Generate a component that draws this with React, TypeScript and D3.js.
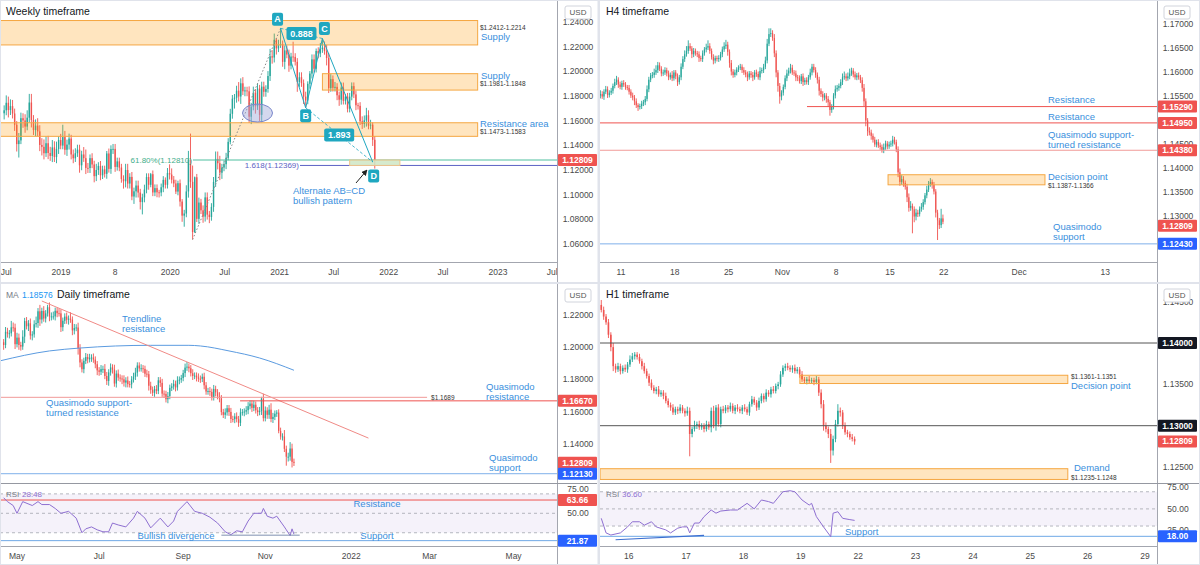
import React from "react";
import * as d3 from "d3";

/* ================= DATA ================= */
// ---- Weekly EUR/USD (price x 10000), weeks starting 2018-06-25
const weeklyFirstWeek = "2018-06-25";
const weeklyFirstOpen = 11660;
const weeklyClose = [
  11684,11745,11686,11718,11658,11567,11410,11440,11620,11602,11552,11624,11747,11605,11524,11560,11513,11403,11388,11336,11417,11338,11314,11383,11305,11370,11443,11398,
  11467,11364,11406,11455,11326,11295,11336,11365,11238,11326,11296,11217,11216,11296,11245,11150,11200,11233,11157,11205,11169,11334,11209,11370,11371,11225,11270,11220,11127,11109,11200,11090,11144,10985,11027,11074,11017,10940,10978,11041,11143,11080,11166,11018,11053,11019,11017,11060,11120,11080,11176,11163,
  11121,11091,11025,11093,10944,10830,10847,11026,11284,11104,10697,11141,10804,10936,10873,10822,10978,10838,10819,10901,11103,11290,11255,11178,11220,11247,11299,11428,11656,11778,11786,11843,11796,11903,11838,11845,11838,11632,11714,11826,11717,11860,11647,11876,11834,11857,11962,12122,12112,12256,12186,12216,
  12220,12077,12170,12136,12046,12120,12117,12077,11914,11952,11904,11795,11763,11899,11982,12097,12021,12165,12145,12180,12192,12165,12108,11864,11937,11866,11874,11806,11770,11869,11761,11795,11697,11795,11880,11813,11725,11720,11595,11573,11602,11644,11560,11567,11445,11281,
];
const weeklyUpWick = [
  40,60,50,55,50,40,30,60,45,40,50,60,70,70,40,50,60,50,55,60,55,60,50,60,50,60,30,50,
  100,50,40,40,30,40,40,40,40,30,60,70,40,30,40,30,50,30,40,30,30,20,40,30,40,40,30,30,30,30,50,50,30,40,30,40,40,30,30,40,30,30,10,30,30,30,20,30,30,20,40,70,
  50,30,30,20,30,20,30,50,71,211,132,6,27,40,30,40,40,40,30,30,40,60,60,60,30,30,40,30,40,30,30,40,70,40,50,30,30,40,30,50,30,40,30,40,40,30,40,60,50,50,10,40,
  129,30,40,40,40,30,120,30,30,40,40,30,40,20,20,40,40,20,30,50,74,50,50,40,40,30,40,30,30,40,40,20,30,30,30,30,30,20,30,40,40,60,40,40,20,30,
];
const weeklyDnWick = [
  50,40,60,40,40,50,60,109,30,60,50,30,40,60,40,50,40,50,70,50,30,50,40,50,40,50,40,30,
  30,40,50,40,40,40,30,30,60,40,30,50,40,40,30,50,40,40,40,30,30,40,30,40,40,40,30,30,30,60,50,40,40,30,60,50,40,60,100,40,30,40,20,30,30,40,40,30,40,30,30,40,
  30,30,20,30,40,50,90,30,50,49,61,7,26,40,30,50,40,40,50,30,40,40,50,60,50,30,40,20,20,40,80,40,40,60,30,40,40,50,60,30,60,30,50,60,40,40,30,40,50,40,50,30,
  26,40,60,30,50,30,40,30,80,40,30,60,59,30,40,40,30,30,40,30,30,30,60,40,30,30,30,40,50,40,30,30,30,30,30,30,40,30,30,40,30,50,30,30,50,70,
];
const weeklyPriceTicks = [1.24, 1.22, 1.2, 1.18, 1.16, 1.14, 1.12, 1.1, 1.08, 1.06];
const weeklyTimeTickDates = ["2018-07-02","2019-01-01","2019-07-01","2020-01-01","2020-07-01","2021-01-01","2021-07-01","2022-01-01","2022-07-01","2023-01-01","2023-07-01"];
const weeklyTimeTickText = ["Jul","2019","8","2020","Jul","2021","Jul","2022","Jul","2023","Jul"];
const weeklyZoneTop = [1.2412, 1.1981, 1.1583];
const weeklyZoneBottom = [1.2214, 1.1848, 1.1473];
const weeklyZoneFrom = ["2018-01-01", "2021-05-24", "2018-01-01"];
const weeklyZoneTo = "2022-10-25";
const weeklyZoneName = ["Supply", "Supply", "Resistance area"];
const weeklyZoneRange = ["$1.2412-1.2214", "$1.1981-1.1848", "$1.1473-1.1583"];
const patternNames = ["X", "A", "B", "C", "D"];
const patternDates = ["2020-03-16", "2021-01-04", "2021-03-29", "2021-05-24", "2021-11-08"];
const patternPrices = [1.0636, 1.2349, 1.1704, 1.2266, 1.1265];
const patternRatios = ["0.888", "1.893"];
const fibPrices = [1.1281, 1.12369];
const fibFrom = ["2020-03-17", "2021-03-10"];
const fibText = ["61.80%(1.12810)", "1.618(1.12369)"];
const abcdBoxDates = ["2021-08-23", "2022-02-07"];
const abcdBoxPrices = [1.1281, 1.1237];
const ellipseDate = "2020-10-19";
const ellipsePrice = 1.1662;
const lastPrice = 1.12809;

// ---- H4 (price x 10000); 6 bars per trading day, day 0 = 2021-10-07
const h4FirstOpen = 11552;
const h4Close = [
  11555,11550,11560,11565,11553,11558, 11562,11572,11580,11585,11575,11570,
  11578,11575,11570,11568,11560,11552, 11548,11540,11532,11528,11530,11535,
  11538,11545,11565,11585,11594,11595, 11600,11605,11615,11608,11598,11600,
  11605,11598,11590,11595,11588,11600, 11592,11580,11590,11612,11628,11638,
  11645,11655,11650,11638,11645,11640, 11638,11630,11628,11640,11648,11652,
  11655,11645,11632,11625,11630,11628, 11630,11638,11648,11655,11658,11643,
  11620,11602,11595,11600,11606,11610, 11612,11605,11600,11596,11590,11598,
  11595,11590,11600,11597,11590,11603, 11605,11612,11625,11660,11680,11682,
  11672,11640,11600,11572,11550,11558, 11570,11588,11598,11604,11610,11600,
  11598,11590,11588,11582,11592,11580, 11584,11580,11590,11600,11612,11605,
  11595,11585,11562,11555,11548,11552, 11545,11538,11522,11528,11552,11565,
  11568,11572,11580,11590,11592,11588, 11592,11598,11604,11596,11590,11594,
  11590,11584,11568,11540,11500,11478, 11475,11468,11460,11450,11455,11448,
  11445,11438,11444,11452,11446,11450, 11452,11460,11455,11440,11392,11372,
  11378,11370,11362,11340,11318,11322, 11315,11300,11308,11305,11316,11320,
  11330,11344,11356,11368,11372,11366, 11352,11308,11292,11282,11296,11289,
];
const h4UpWick = [
  8,6,5,7,6,5, 6,5,7,8,5,6, 5,6,5,4,6,5, 6,5,6,4,5,6, 5,6,8,6,5,6, 8,10,7,6,5,6,
  6,5,6,5,8,5, 5,6,5,7,6,8, 10,12,6,5,6,5, 5,6,5,6,5,8, 12,6,5,6,5,5, 6,5,6,8,10,6,
  5,6,5,6,5,5, 6,5,6,5,6,5, 5,6,5,6,5,8, 5,6,8,10,12,10, 6,8,6,5,6,5, 5,6,8,6,8,6,
  5,6,5,6,5,6, 5,6,5,8,6,6, 6,5,6,5,6,5, 5,6,5,6,5,8, 6,5,6,8,10,6, 8,10,6,5,6,5,
  6,5,6,8,6,5, 8,6,5,6,5,6, 6,5,8,6,5,6, 6,8,6,5,6,8, 8,6,5,6,8,10, 5,6,8,6,5,8,
  6,5,8,6,8,5, 6,5,6,5,20,8,
];
const h4DnWick = [
  6,5,7,5,6,5, 5,6,5,6,7,5, 6,5,6,5,6,5, 6,8,6,8,5,6, 5,6,5,6,5,6, 6,5,6,5,6,5,
  5,6,6,5,6,5, 6,8,5,6,5,6, 5,6,5,8,6,5, 6,8,5,6,5,6, 5,6,5,8,6,5, 6,5,6,5,6,8,
  10,8,6,5,6,5, 5,6,5,6,8,5, 6,8,5,6,5,6, 5,6,5,6,5,6, 6,8,10,12,15,8, 6,5,6,5,6,5,
  5,8,6,5,6,8, 6,5,6,5,6,5, 6,8,10,6,8,6, 8,10,12,6,5,6, 5,6,5,6,5,6, 5,6,5,6,5,6,
  5,6,8,10,12,10, 6,8,6,5,6,5, 6,5,6,5,6,5, 5,6,5,6,10,8, 6,8,6,10,8,6, 50,12,8,6,5,6,
  6,5,6,5,6,8, 6,10,41,8,6,5,
];
const h4PriceTicks = [1.17, 1.165, 1.16, 1.155, 1.15, 1.145, 1.14, 1.135, 1.13, 1.125];
const h4TimeTickBars = [12, 42, 72, 102, 132, 162, 192, 234, 282];
const h4TimeTickText = ["11", "18", "25", "Nov", "8", "15", "22", "Dec", "13"];
const h4LevelPrices = [1.1529, 1.1495, 1.1438, 1.1243];
const h4LevelFromBar = [115.7, -5, -5, -5];
const h4ZonePrices = [1.1387, 1.1366];
const h4ZoneBars = [160.9, 248.4];

// ---- Daily (price x 10000); index 0 = 2021-05-03, first bar 2021-04-22
const dailyFirstIndex = -7;
const dailyFirstOpen = 12032;
const dailyClose = [
  12015,12097,12086,12088,12125,12123,12020,
  12061,12015,12005,12067,12164,12132,12150,12074,12081,12144,12152,12225,12174,12227,12180,12212,12250,12193,12193,12193,12228,
  12213,12212,12126,12166,12192,12172,12179,12173,12106,12121,12124,11995,11906,11864,11916,11940,11926,11935,11937,11924,11895,11857,
  11848,11865,11866,11822,11791,11844,11875,11862,11775,11837,11812,11806,11801,11781,11794,11771,11770,11801,11817,11843,11887,11869,
  11870,11866,11836,11833,11761,11736,11717,11740,11729,11795,11779,11712,11710,11677,11697,11748,11757,11773,11751,11795,11799,11809,
  11840,11874,11880,11870,11839,11822,11824,11813,11805,11804,11817,11764,11725,11728,11723,11689,11741,11720,11696,11683,11597,11580,
  11595,11621,11598,11554,11553,11570,11553,11530,11595,11596,11600,11609,11634,11650,11623,11643,11608,11597,11604,11681,11559,
  11607,11580,11612,11554,11567,11587,11594,11480,11445,11445,11368,11319,11319,11370,11287,11281,
];
const dailyUpWick = [
  20,30,25,20,40,30,25,
  30,25,20,40,20,25,20,30,20,25,40,20,40,20,30,20,15,30,25,30,20,
  20,30,25,20,20,25,20,40,20,25,20,30,25,20,20,25,20,25,20,25,20,20,
  20,25,20,30,25,20,25,20,30,20,25,20,20,25,20,25,20,20,25,30,20,20,
  25,20,20,25,20,25,20,20,25,20,20,25,20,20,25,20,20,25,20,25,20,20,
  20,25,29,20,20,25,20,20,25,20,20,25,20,20,25,20,25,20,20,25,20,20,
  25,20,20,25,20,20,25,20,25,20,20,25,25,20,20,25,20,20,25,11,30,
  25,20,30,40,25,20,15,20,20,20,40,20,25,40,30,20,
];
const dailyDnWick = [
  30,20,25,30,20,25,30,
  20,30,25,20,40,20,30,25,30,20,20,30,40,25,20,25,20,30,25,20,25,
  25,20,30,25,20,25,30,20,30,25,20,40,30,20,25,20,25,20,25,20,25,30,
  25,20,25,20,25,30,20,25,20,25,20,20,30,25,30,20,20,25,20,20,25,20,
  20,25,20,20,30,25,20,25,20,20,25,20,25,20,25,20,20,20,25,20,25,20,
  20,25,20,25,20,25,20,25,20,25,20,25,20,20,25,20,20,25,20,25,20,20,
  25,20,25,25,20,25,20,25,20,20,25,20,25,20,25,20,20,25,20,25,20,
  20,25,25,20,25,20,20,15,20,25,20,56,30,25,35,20,
];
const dailyPriceTicks = [1.22, 1.2, 1.18, 1.16, 1.14, 1.12];
const dailyTimeTickIdx = [0, 43, 87, 130, 175, 216, 260];
const dailyTimeTickText = ["May", "Jul", "Sep", "Nov", "2022", "Mar", "May"];
const dailyMaIdx = [-9, 17, 33, 70, 90, 96, 111, 127, 145];
const dailyMaVal = [1.1916, 1.1978, 1.1996, 1.2013, 1.2013, 1.2009, 1.1978, 1.1934, 1.18576];
const dailyTrendIdx = [13, 184];
const dailyTrendVal = [1.2289, 1.1435];
const dailyQmSupportTurned = 1.1689;
const dailyQmSupportTurnedIdx = [-9, 214.7];
const dailyQmResistance = 1.1667;
const dailyQmResistanceFrom = 116.8;
const dailyQmSupport = 1.1213;
const dailyRsiIdx = [-7,-5,-2,0,3,8,11,13,17,20,23,27,31,34,36,39,42,45,48,50,53,57,61,63,67,70,75,79,82,84,89,93,97,101,105,109,112,115,118,121,124,128,129,131,134,136,140,141,142,143,144,145];
const dailyRsiVal = [66,62,58,50,62,58,62,59,59,55,50,52,45,30,34,36,33,31,31,40,38,36,45,52,45,35,45,36,42,52,62,52,50,46,40,31,28,32,31,42,50,50,55,47,45,47,36,33,30,27,34,28.5];
const dailyRsiResistance = 63.66;
const dailyRsiSupport = 21.87;
const dailyDivIdx = [107, 148];
const dailyDivVal = [27.5, 27.5];

// ---- H1 (price x 10000); hour 0 = 2021-11-15 00:00, first bar at hour 12
const h1FirstHour = 12;
const h1FirstOpen = 11446;
const h1Close = [
  11440,11432,11425,11410,11395,11372, 11368,11372,11366,11370,11368,11374,
  11380,11384,11386,11383,11378,11372, 11366,11360,11352,11346,11342,11344,11338,11340,11336,
  11330,11325,11322,11316,11320,11318, 11322,11318,11315,11318,11290,
  11296,11300,11302,11298,11300,11296,11302,11298, 11318,11300,11322,11302,11320,11318,
  11322,11320,11324,11318,11322,11320,11318,11322,11320,11316, 11326,11332,11328,11322,
  11330,11336,11332,11340,11338,11344,11342,11348,11350, 11362,11370,
  11372,11370,11368,11370,11366,11368,11362, 11356,11354, 11356,11354,11355,11353,11356,
  11340,11326, 11300,11296,11290,11270, 11284,11302,11318,11316, 11300,11292, 11290,11286,11284,11281,
];
const h1UpWick = [
  6,4,3,4,3,5,3,4,3,3, 4,3,5,4,3,3,4,3,4,3, 3,4,3,3,4,3,3,4,3,3, 4,3,3,4,3,3,5,4,3,6,
  3,4,3,3,4,3,4,6,3,4, 3,4,3,3,4,3,3,4,3,3, 4,3,3,4,3,3,4,3,3,4, 3,3,4,3,3,4,3,3,4,3,
  3,4,3,3,4,3,3,4,3,3, 4,3,4,5,4,3,6,4,5,8, 4,3,4,3,3,4,3,
];
const h1DnWick = [
  3,4,3,4,5,6,4,3,4,3, 3,4,3,3,4,3,3,4,3,3, 4,3,3,4,3,3,4,3,3,4, 3,3,4,3,3,4,3,27,4,3,
  4,3,3,4,3,3,6,3,6,3, 4,3,3,4,3,3,4,3,3,4, 3,3,4,3,3,4,3,3,4,3, 3,4,3,3,4,3,3,4,3,3,
  4,3,3,4,3,3,4,3,3,4, 3,4,5,6,4,5,15,6,4,3, 5,4,3,4,3,3,4,
];
const h1PriceTicks = [1.145, 1.14, 1.135, 1.13, 1.125];
const h1TimeTickHours = [24, 48, 72, 96, 120, 144, 168, 192, 216, 240];
const h1TimeTickText = ["16", "17", "18", "19", "22", "23", "24", "25", "26", "29"];
const h1RoundLevels = [1.14, 1.13];
const h1ZoneTop = [1.1361, 1.1248];
const h1ZoneBottom = [1.1351, 1.1235];
const h1ZoneFromHour = [95.1, 11.5];
const h1ZoneToHour = 207.2;
const h1RsiIdx = [0,2,4,8,11,13,16,18,21,23,27,29,32,34,36,37,39,41,43,46,48,50,54,57,61,64,67,70,72,76,79,81,84,87,88,90,93,96,97,99,101,104,106];
const h1RsiVal = [39,22,19.5,22,29,35,35,31,35,29,25.5,22,27.5,29,29,22,33.5,33.5,41,48.7,45,47.5,48.7,48.7,56.5,50,60.4,58.5,56.5,70,71.2,70,60.4,54.5,56.5,41,29,17.6,45,46.7,39,37.5,36.6];
const h1RsiSupport = 18;
const h1DivIdx = [6, 43];
const h1DivVal = [14, 19];

/* ================= HELPERS ================= */
const UP = "#26a69a";
const DN = "#ef5350";
const BLUE_TXT = "#3a8fdd";
const AXIS = "#a3a6af";
const FONT = "'Liberation Sans', Arial, sans-serif";
const day = (s: string) => new Date(s + "T00:00:00Z");

type Bar = { k: number; o: number; h: number; l: number; c: number };
function buildBars(first: number, close: number[], up: number[], dn: number[], k0: number): Bar[] {
  let prev = first;
  return close.map((c, i) => {
    const o = prev;
    prev = c;
    return {
      k: k0 + i,
      o: o / 1e4,
      c: c / 1e4,
      h: (Math.max(o, c) + (up[i] ?? 0)) / 1e4,
      l: (Math.min(o, c) - (dn[i] ?? 0)) / 1e4,
    };
  });
}

function Candles({ data, xf, y, bw }: { data: Bar[]; xf: (k: number) => number; y: (v: number) => number; bw: number }) {
  return (
    <g>
      {data.map((q) => {
        const cx = xf(q.k);
        const col = q.c >= q.o ? UP : DN;
        const t = y(Math.max(q.o, q.c));
        const b = y(Math.min(q.o, q.c));
        return (
          <g key={q.k}>
            <line x1={cx} x2={cx} y1={y(q.h)} y2={y(q.l)} stroke={col} strokeWidth={0.9} />
            <rect x={cx - bw / 2} y={t} width={bw} height={Math.max(0.9, b - t)} fill={col} />
          </g>
        );
      })}
    </g>
  );
}

function Tag({ x, y, text, bg }: { x: number; y: number; text: string; bg: string }) {
  return (
    <g>
      <rect x={x} y={y - 6} width={39} height={12} fill={bg} rx={1} />
      <text x={x + 19.5} y={y} dy="0.35em" textAnchor="middle" fontSize={8.5} fontWeight="bold" fill="#fff">{text}</text>
    </g>
  );
}

function Usd({ x, y }: { x: number; y: number }) {
  return (
    <g>
      <rect x={x} y={y} width={26} height={13} fill="#fff" stroke="#d1d4dc" rx={2} />
      <text x={x + 13} y={y + 6.5} dy="0.35em" textAnchor="middle" fontSize={8} fill="#555">USD</text>
    </g>
  );
}

// axis tick labels; labels sitting right under a price tag are hidden, as the platform does
function TickLabels({ ticks, y, x, digits, avoid = [] }: { ticks: number[]; y: (v: number) => number; x: number; digits: number; avoid?: number[] }) {
  return (
    <g>
      {ticks
        .filter((p) => avoid.every((a) => Math.abs(y(p) - a) > 5))
        .map((p) => (
          <text key={p} x={x} y={y(p)} dy="0.35em" textAnchor="middle" fontSize={8.5} fill="#4a4a4a">{p.toFixed(digits)}</text>
        ))}
    </g>
  );
}

function Label({ x, y, lines, color = BLUE_TXT, size = 9.5, anchor = "start" }: { x: number; y: number; lines: string[]; color?: string; size?: number; anchor?: string }) {
  return (
    <g>
      {lines.map((t, i) => (
        <text key={i} x={x} y={y + i * (size + 0.5)} dy="0.35em" fontSize={size} fill={color} textAnchor={anchor as any}>{t}</text>
      ))}
    </g>
  );
}

function TeachBox({ x, y, text }: { x: number; y: number; text: string }) {
  const w = text.length > 1 ? 30 : 11;
  return (
    <g>
      <rect x={x - w / 2} y={y - 6.5} width={w} height={13} rx={2} fill="#1fa7c0" />
      <text x={x} y={y} dy="0.35em" textAnchor="middle" fontSize={9} fontWeight="bold" fill="#fff">{text}</text>
    </g>
  );
}

/* ================= APP ================= */
export default function App() {
  /* ---- Weekly scales ---- */
  const wy = d3.scaleLinear().domain([1.24, 1.06]).range([22, 244]);
  const wx = d3.scaleTime().domain([day("2019-01-01"), day("2023-01-01")]).range([61, 498]);
  const wStart = day(weeklyFirstWeek).getTime();
  const wxk = (k: number) => wx(new Date(wStart + k * 7 * 864e5));
  const weekly = buildBars(weeklyFirstOpen, weeklyClose, weeklyUpWick, weeklyDnWick, 0);
  const P = patternDates.map((s, i) => ({ x: wx(day(s)), y: wy(patternPrices[i]) }));

  /* ---- H4 scales ---- */
  const hy = d3.scaleLinear().domain([1.17, 1.13]).range([24.5, 216.5]);
  const hx = d3.scaleLinear().domain([0, 282]).range([599.5, 599.5 + 282 * (10.76 / 6)]);
  const hxk = (k: number) => hx(k + 0.5);
  const h4 = buildBars(h4FirstOpen, h4Close, h4UpWick, h4DnWick, 0);

  /* ---- Daily scales ---- */
  const dy = d3.scaleLinear().domain([1.22, 1.14]).range([315.3, 443.7]);
  const dx = d3.scaleLinear().domain([0, 260]).range([17, 513.6]);
  const daily = buildBars(dailyFirstOpen, dailyClose, dailyUpWick, dailyDnWick, dailyFirstIndex);
  const dr = d3.scaleLinear().domain([50, 25]).range([513.3, 537.6]);
  const maLine = d3.line<number>().x((_, i) => dx(dailyMaIdx[i])).y((v) => dy(v)).curve(d3.curveMonotoneX)(dailyMaVal) || "";
  const dRsiLine = d3.line<number>().x((_, i) => dx(dailyRsiIdx[i])).y((v) => dr(v))(dailyRsiVal) || "";

  /* ---- H1 scales ---- */
  const ey = d3.scaleLinear().domain([1.14, 1.13]).range([343, 425.7]);
  const ex = d3.scaleLinear().domain([0, 240]).range([571.4, 571.4 + 240 * 2.39]);
  const exk = (k: number) => ex(k + 0.5);
  const h1 = buildBars(h1FirstOpen, h1Close, h1UpWick, h1DnWick, h1FirstHour);
  const er = d3.scaleLinear().domain([50, 30]).range([508.9, 526.04]);
  const eRsiLine = d3.line<number>().x((_, i) => exk(h1FirstHour + h1RsiIdx[i])).y((v) => er(v))(h1RsiVal) || "";

  const rsiPurple = "#8e6fd1";

  return (
    <svg width={1200} height={565} style={{ position: "absolute", left: 0, top: 0, background: "#fff", fontFamily: FONT }}>
      <defs>
        <clipPath id="cw"><rect x={0} y={0} width={557} height={262} /></clipPath>
        <clipPath id="cwt"><rect x={0} y={262} width={557} height={20} /></clipPath>
        <clipPath id="ch"><rect x={600} y={0} width={557} height={262} /></clipPath>
        <clipPath id="cht"><rect x={600} y={262} width={557} height={20} /></clipPath>
        <clipPath id="cd"><rect x={0} y={284} width={557} height={199} /></clipPath>
        <clipPath id="cdr"><rect x={0} y={484} width={557} height={62} /></clipPath>
        <clipPath id="cdt"><rect x={0} y={546} width={557} height={19} /></clipPath>
        <clipPath id="ce"><rect x={600} y={284} width={557} height={199} /></clipPath>
        <clipPath id="cer"><rect x={600} y={484} width={557} height={62} /></clipPath>
        <clipPath id="cet"><rect x={600} y={546} width={557} height={19} /></clipPath>
        <marker id="arr" viewBox="0 0 10 10" refX="9" refY="5" markerWidth="6" markerHeight="6" orient="auto">
          <path d="M0,0 L10,5 L0,10 z" fill="#222" />
        </marker>
      </defs>
      <rect x={0} y={0} width={1200} height={565} fill="#fff" />

      {/* ================= WEEKLY ================= */}
      <g>
        <g clipPath="url(#cw)">
          <Candles data={weekly} xf={wxk} y={wy} bw={1.4} />
          {weeklyZoneTop.map((t, i) => (
            <rect key={i} x={wx(day(weeklyZoneFrom[i]))} y={wy(t)} width={wx(day(weeklyZoneTo)) - wx(day(weeklyZoneFrom[i]))}
              height={wy(weeklyZoneBottom[i]) - wy(t)} fill="#ff9800" fillOpacity={0.25} stroke="#f5a742" strokeWidth={1} />
          ))}
          {/* fib lines */}
          <line x1={wx(day(fibFrom[0]))} x2={557} y1={wy(fibPrices[0])} y2={wy(fibPrices[0])} stroke="#4fbf9f" strokeWidth={1} />
          <line x1={wx(day(fibFrom[1]))} x2={557} y1={wy(fibPrices[1])} y2={wy(fibPrices[1])} stroke="#5c62c4" strokeWidth={1} />
          <rect x={wx(day(abcdBoxDates[0]))} y={wy(abcdBoxPrices[0])} width={wx(day(abcdBoxDates[1])) - wx(day(abcdBoxDates[0]))}
            height={wy(abcdBoxPrices[1]) - wy(abcdBoxPrices[0])} fill="#cfe6c4" fillOpacity={0.85} stroke="#f0c48a" strokeWidth={1} />
          {/* pattern */}
          <line x1={P[0].x} y1={P[0].y} x2={P[1].x} y2={P[1].y} stroke="#888" strokeWidth={1} strokeDasharray="1.5,2" />
          <line x1={P[1].x} y1={P[1].y} x2={P[3].x} y2={P[3].y} stroke="#1fa7c0" strokeWidth={0.8} strokeDasharray="3,2" />
          <line x1={P[2].x} y1={P[2].y} x2={P[4].x} y2={P[4].y} stroke="#1fa7c0" strokeWidth={0.8} strokeDasharray="3,2" />
          <polyline points={[1, 2, 3, 4].map((i) => `${P[i].x},${P[i].y}`).join(" ")} fill="none" stroke="#1fa7c0" strokeWidth={1} />
          <ellipse cx={wx(day(ellipseDate))} cy={wy(ellipsePrice)} rx={15} ry={9} fill="#9fa8da" fillOpacity={0.45} stroke="#7986cb" strokeWidth={1} />
          <line x1={356} y1={183} x2={367} y2={170} stroke="#222" strokeWidth={1} markerEnd="url(#arr)" />
        </g>
        <TeachBox x={P[1].x - 3} y={P[1].y - 9} text={patternNames[1]} />
        <TeachBox x={P[2].x} y={P[2].y + 8} text={patternNames[2]} />
        <TeachBox x={P[3].x + 2} y={P[3].y - 10} text={patternNames[3]} />
        <TeachBox x={P[4].x + 1} y={P[4].y + 14} text={patternNames[4]} />
        <TeachBox x={(P[1].x + P[3].x) / 2} y={(P[1].y + P[3].y) / 2} text={patternRatios[0]} />
        <TeachBox x={(P[2].x + P[4].x) / 2} y={(P[2].y + P[4].y) / 2} text={patternRatios[1]} />
        <text x={wx(day(fibFrom[0])) - 1} y={wy(fibPrices[0])} dy="0.35em" textAnchor="end" fontSize={8} fill="#3fae8a">{fibText[0]}</text>
        <text x={wx(day(fibFrom[1])) - 1} y={wy(fibPrices[1])} dy="0.35em" textAnchor="end" fontSize={8} fill="#5c62c4">{fibText[1]}</text>
        <Label x={293} y={191} lines={["Alternate AB=CD", "bullish pattern"]} />
        {/* zone labels */}
        <Label x={480} y={wy(weeklyZoneTop[0]) + 7} lines={[weeklyZoneRange[0]]} color="#333" size={6.5} />
        <Label x={481} y={wy(weeklyZoneTop[0]) + 16.5} lines={[weeklyZoneName[0]]} />
        <Label x={481} y={wy(weeklyZoneTop[1]) + 2} lines={[weeklyZoneName[1]]} />
        <Label x={480} y={wy(weeklyZoneTop[1]) + 10.5} lines={[weeklyZoneRange[1]]} color="#333" size={6.5} />
        <Label x={480} y={wy(weeklyZoneTop[2]) + 0.5} lines={[weeklyZoneName[2]]} />
        <Label x={480} y={wy(weeklyZoneTop[2]) + 9} lines={[weeklyZoneRange[2]]} color="#333" size={6.5} />
        <text x={6} y={15} fontSize={10.5} fill="#131722">Weekly timeframe</text>
        {/* axes */}
        <line x1={557.5} x2={557.5} y1={0} y2={282} stroke={AXIS} />
        <line x1={0} x2={557.5} y1={262.5} y2={262.5} stroke={AXIS} />
        <TickLabels ticks={weeklyPriceTicks} y={wy} x={578} digits={5} avoid={[wy(lastPrice)]} />
        <Tag x={558} y={wy(lastPrice)} text={lastPrice.toFixed(5)} bg={DN} />
        <Usd x={565} y={6} />
        <g clipPath="url(#cwt)">
          {weeklyTimeTickDates.map((s, i) => (
            <text key={s} x={wx(day(s))} y={272} dy="0.35em" textAnchor="middle" fontSize={8.5} fill="#4a4a4a">{weeklyTimeTickText[i]}</text>
          ))}
        </g>
      </g>

      {/* ================= H4 ================= */}
      <g>
        <g clipPath="url(#ch)">
          <Candles data={h4} xf={hxk} y={hy} bw={1.2} />
          {h4LevelPrices.map((p, i) => (
            <line key={p} x1={hx(h4LevelFromBar[i])} x2={1157} y1={hy(p)} y2={hy(p)}
              stroke={i === 3 ? "#7fb0ea" : i === 2 ? "#f19a98" : DN} strokeWidth={1} />
          ))}
          <rect x={hx(h4ZoneBars[0])} y={hy(h4ZonePrices[0])} width={hx(h4ZoneBars[1]) - hx(h4ZoneBars[0])}
            height={hy(h4ZonePrices[1]) - hy(h4ZonePrices[0])} fill="#ff9800" fillOpacity={0.25} stroke="#f5a742" />
        </g>
        <text x={606} y={15} fontSize={10.5} fill="#131722">H4 timeframe</text>
        <Label x={1048} y={hy(h4LevelPrices[0]) - 6.6} lines={["Resistance"]} />
        <Label x={1048} y={hy(h4LevelPrices[1]) - 6.2} lines={["Resistance"]} />
        <Label x={1048} y={hy(h4LevelPrices[2]) - 15.5} lines={["Quasimodo support-", "turned resistance"]} />
        <Label x={1048} y={hy(h4ZonePrices[0]) + 2} lines={["Decision point"]} />
        <Label x={1048} y={hy(h4ZonePrices[0]) + 10.5} lines={["$1.1387-1.1366"]} color="#333" size={6.5} />
        <Label x={1053} y={hy(h4LevelPrices[3]) - 17.6} lines={["Quasimodo", "support"]} />
        <line x1={1157.5} x2={1157.5} y1={0} y2={282} stroke={AXIS} />
        <line x1={600} x2={1157.5} y1={262.5} y2={262.5} stroke={AXIS} />
        <TickLabels ticks={h4PriceTicks} y={hy} x={1178} digits={5} avoid={[...h4LevelPrices.map((p) => hy(p)), hy(lastPrice)]} />
        {h4LevelPrices.map((p, i) => (
          <Tag key={p} x={1158} y={hy(p)} text={p.toFixed(5)} bg={i === 3 ? "#2962ff" : DN} />
        ))}
        <Tag x={1158} y={hy(lastPrice)} text={lastPrice.toFixed(5)} bg={DN} />
        <Usd x={1164} y={6} />
        <g clipPath="url(#cht)">
          {h4TimeTickBars.map((b, i) => (
            <text key={b} x={hx(b)} y={272} dy="0.35em" textAnchor="middle" fontSize={8.5} fill="#4a4a4a">{h4TimeTickText[i]}</text>
          ))}
        </g>
      </g>

      {/* ================= DAILY ================= */}
      <g>
        <g clipPath="url(#cd)">
          <Candles data={daily} xf={dx} y={dy} bw={1.3} />
          <path d={maLine} fill="none" stroke="#5b9be0" strokeWidth={1} />
          <line x1={dx(dailyTrendIdx[0])} y1={dy(dailyTrendVal[0])} x2={dx(dailyTrendIdx[1])} y2={dy(dailyTrendVal[1])} stroke="#f08a86" strokeWidth={1} />
          <line x1={dx(dailyQmSupportTurnedIdx[0])} x2={dx(dailyQmSupportTurnedIdx[1])} y1={dy(dailyQmSupportTurned)} y2={dy(dailyQmSupportTurned)} stroke="#f19a98" strokeWidth={1} />
          <line x1={dx(dailyQmResistanceFrom)} x2={557} y1={dy(dailyQmResistance)} y2={dy(dailyQmResistance)} stroke={DN} strokeWidth={1} />
          <line x1={0} x2={557} y1={dy(dailyQmSupport)} y2={dy(dailyQmSupport)} stroke="#7fb0ea" strokeWidth={1} />
        </g>
        <text x={6} y={298} fontSize={8.5} fill="#787b86">MA</text>
        <text x={22} y={298} fontSize={8.5} fill="#2196f3">1.18576</text>
        <text x={57} y={298} fontSize={10.5} fill="#131722">Daily timeframe</text>
        <Label x={122} y={319} lines={["Trendline", "resistance"]} />
        <Label x={46} y={402.3} lines={["Quasimodo support-", "turned resistance"]} />
        <text x={dx(dailyQmSupportTurnedIdx[1]) + 4} y={dy(dailyQmSupportTurned)} dy="0.35em" fontSize={6.5} fill="#333">$1.1689</text>
        <Label x={486} y={386.3} lines={["Quasimodo", "resistance"]} />
        <Label x={489} y={458} lines={["Quasimodo", "support"]} />
        {/* RSI pane */}
        <g clipPath="url(#cdr)">
          <rect x={0} y={dr(70)} width={557} height={dr(30) - dr(70)} fill="#7e57c2" fillOpacity={0.08} />
          {[70, 50, 30].map((v) => (
            <line key={v} x1={0} x2={557} y1={dr(v)} y2={dr(v)} stroke="#a3a6af" strokeDasharray="3,3" strokeWidth={0.8} />
          ))}
          <line x1={0} x2={557} y1={dr(dailyRsiResistance)} y2={dr(dailyRsiResistance)} stroke={DN} strokeWidth={1} />
          <line x1={0} x2={557} y1={dr(dailyRsiSupport)} y2={dr(dailyRsiSupport)} stroke="#6fa8e6" strokeWidth={1} />
          <path d={dRsiLine} fill="none" stroke={rsiPurple} strokeWidth={1} />
          <line x1={dx(dailyDivIdx[0])} x2={dx(dailyDivIdx[1])} y1={dr(dailyDivVal[0])} y2={dr(dailyDivVal[1])} stroke="#7f8fb0" strokeWidth={1} />
        </g>
        <text x={6} y={497} fontSize={8} fill="#787b86">RSI</text>
        <text x={22} y={497} fontSize={8} fill={rsiPurple}>28.48</text>
        <Label x={377} y={504} lines={["Resistance"]} anchor="middle" />
        <Label x={377} y={536} lines={["Support"]} anchor="middle" />
        <Label x={176} y={536} lines={["Bullish divergence"]} anchor="middle" />
        {/* axes */}
        <line x1={557.5} x2={557.5} y1={284} y2={565} stroke={AXIS} />
        <line x1={0} x2={597} y1={483.5} y2={483.5} stroke="#9598a1" />
        <line x1={0} x2={557.5} y1={546.5} y2={546.5} stroke={AXIS} />
        <TickLabels ticks={dailyPriceTicks} y={dy} x={578} digits={5} avoid={[dy(dailyQmResistance), dy(lastPrice), dy(dailyQmSupport)]} />
        <Tag x={558} y={dy(dailyQmResistance)} text={dailyQmResistance.toFixed(5)} bg={DN} />
        <Tag x={558} y={dy(lastPrice)} text={lastPrice.toFixed(5)} bg={DN} />
        <Tag x={558} y={dy(dailyQmSupport)} text={dailyQmSupport.toFixed(5)} bg="#2962ff" />
        <Usd x={565} y={289} />
        <TickLabels ticks={[75, 50, 25]} y={dr} x={578} digits={2} avoid={[dr(dailyRsiResistance), dr(dailyRsiSupport)]} />
        <Tag x={558} y={dr(dailyRsiResistance)} text={dailyRsiResistance.toFixed(2)} bg={DN} />
        <Tag x={558} y={dr(dailyRsiSupport)} text={dailyRsiSupport.toFixed(2)} bg="#2962ff" />
        <g clipPath="url(#cdt)">
          {dailyTimeTickIdx.map((k, i) => (
            <text key={k} x={dx(k)} y={556} dy="0.35em" textAnchor="middle" fontSize={8.5} fill="#4a4a4a">{dailyTimeTickText[i]}</text>
          ))}
        </g>
      </g>

      {/* ================= H1 ================= */}
      <g>
        <g clipPath="url(#ce)">
          <Candles data={h1} xf={exk} y={ey} bw={1.6} />
          {h1RoundLevels.map((p) => (
            <line key={p} x1={600} x2={1157} y1={ey(p)} y2={ey(p)} stroke="#555" strokeWidth={1} />
          ))}
          {h1ZoneTop.map((t, i) => (
            <rect key={t} x={exk(h1ZoneFromHour[i])} y={ey(t)} width={exk(h1ZoneToHour) - exk(h1ZoneFromHour[i])}
              height={ey(h1ZoneBottom[i]) - ey(t)} fill="#ff9800" fillOpacity={0.25} stroke="#f5a742" />
          ))}
        </g>
        <text x={606} y={298} fontSize={10.5} fill="#131722">H1 timeframe</text>
        <Label x={1071} y={ey(h1ZoneTop[0]) + 1.5} lines={["$1.1361-1.1351"]} color="#333" size={6.5} />
        <Label x={1071} y={ey(h1ZoneTop[0]) + 10.5} lines={["Decision point"]} />
        <Label x={1074} y={ey(h1ZoneTop[1]) - 1.5} lines={["Demand"]} />
        <Label x={1071} y={ey(h1ZoneTop[1]) + 8.7} lines={["$1.1235-1.1248"]} color="#333" size={6.5} />
        {/* RSI pane */}
        <g clipPath="url(#cer)">
          <rect x={600} y={er(70)} width={557} height={er(30) - er(70)} fill="#7e57c2" fillOpacity={0.08} />
          {[70, 50, 30].map((v) => (
            <line key={v} x1={600} x2={1157} y1={er(v)} y2={er(v)} stroke="#a3a6af" strokeDasharray="3,3" strokeWidth={0.8} />
          ))}
          <line x1={600} x2={1157} y1={er(h1RsiSupport)} y2={er(h1RsiSupport)} stroke="#6fa8e6" strokeWidth={1} />
          <path d={eRsiLine} fill="none" stroke={rsiPurple} strokeWidth={1} />
          <line x1={exk(h1FirstHour + h1DivIdx[0])} x2={exk(h1FirstHour + h1DivIdx[1])} y1={er(h1DivVal[0])} y2={er(h1DivVal[1])} stroke="#3d6fd0" strokeWidth={1.2} />
        </g>
        <text x={606} y={497} fontSize={8} fill="#787b86">RSI</text>
        <text x={622} y={497} fontSize={8} fill={rsiPurple}>36.60</text>
        <Label x={845} y={531.7} lines={["Support"]} />
        {/* axes */}
        <line x1={1157.5} x2={1157.5} y1={284} y2={565} stroke={AXIS} />
        <line x1={600} x2={1200} y1={483.5} y2={483.5} stroke="#9598a1" />
        <line x1={600} x2={1157.5} y1={546.5} y2={546.5} stroke={AXIS} />
        <TickLabels ticks={h1PriceTicks} y={ey} x={1178} digits={5} avoid={[...h1RoundLevels.map((p) => ey(p)), ey(lastPrice)]} />
        {h1RoundLevels.map((p) => (
          <Tag key={p} x={1158} y={ey(p)} text={p.toFixed(5)} bg="#131722" />
        ))}
        <Tag x={1158} y={ey(lastPrice)} text={lastPrice.toFixed(5)} bg={DN} />
        <Usd x={1164} y={289} />
        <TickLabels ticks={[75, 50, 25]} y={er} x={1178} digits={2} avoid={[er(h1RsiSupport)]} />
        <Tag x={1158} y={er(h1RsiSupport)} text={h1RsiSupport.toFixed(2)} bg="#2962ff" />
        <g clipPath="url(#cet)">
          {h1TimeTickHours.map((k, i) => (
            <text key={k} x={ex(k)} y={556} dy="0.35em" textAnchor="middle" fontSize={8.5} fill="#4a4a4a">{h1TimeTickText[i]}</text>
          ))}
        </g>
      </g>

      {/* panel separators */}
      <rect x={597.5} y={0} width={2.5} height={565} fill="#e0e3eb" />
      <rect x={0} y={282} width={1200} height={2} fill="#e0e3eb" />
      <rect x={0.5} y={0.5} width={1199} height={564} fill="none" stroke="#e0e3eb" />
    </svg>
  );
}
